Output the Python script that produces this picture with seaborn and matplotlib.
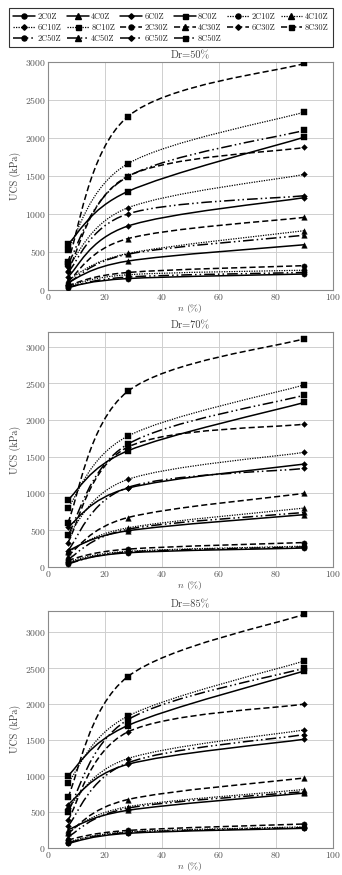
import numpy as np
import pandas as pd
import matplotlib
matplotlib.use("Agg")
import matplotlib.pyplot as plt
from matplotlib.path import Path
from matplotlib.patches import PathPatch
from matplotlib.lines import Line2D
import seaborn as sns

# porosity n (%) at which UCS was measured
n_vals = [7, 28, 90]

# series names in legend (row by row) order
names = ["2C0Z", "4C0Z", "6C0Z", "8C0Z", "2C10Z", "4C10Z",
         "6C10Z", "8C10Z", "2C30Z", "4C30Z", "6C30Z", "8C30Z",
         "2C50Z", "4C50Z", "6C50Z", "8C50Z"]

# UCS (kPa) values, Dr = 50 %
dr50 = {
    "2C0Z": [40, 150, 210], "2C10Z": [50, 200, 260],
    "2C30Z": [60, 230, 320], "2C50Z": [30, 170, 230],
    "4C0Z": [100, 380, 595], "4C10Z": [130, 480, 780],
    "4C30Z": [110, 675, 955], "4C50Z": [90, 470, 720],
    "6C0Z": [170, 840, 1215], "6C10Z": [300, 1080, 1520],
    "6C30Z": [250, 1495, 1875], "6C50Z": [230, 1000, 1240],
    "8C0Z": [600, 1295, 2010], "8C10Z": [530, 1660, 2340],
    "8C30Z": [370, 2280, 2980], "8C50Z": [340, 1490, 2100],
}
# Dr = 70 %
dr70 = {
    "2C0Z": [50, 190, 255], "2C10Z": [70, 210, 280],
    "2C30Z": [90, 240, 330], "2C50Z": [40, 200, 270],
    "4C0Z": [220, 490, 710], "4C10Z": [200, 530, 800],
    "4C30Z": [150, 670, 1000], "4C50Z": [100, 510, 740],
    "6C0Z": [540, 1070, 1400], "6C10Z": [430, 1190, 1560],
    "6C30Z": [330, 1630, 1945], "6C50Z": [220, 1080, 1340],
    "8C0Z": [910, 1580, 2240], "8C10Z": [800, 1780, 2480],
    "8C30Z": [600, 2390, 3110], "8C50Z": [430, 1670, 2340],
}
# Dr = 85 %
dr85 = {
    "2C0Z": [60, 200, 270], "2C10Z": [80, 220, 290],
    "2C30Z": [110, 240, 330], "2C50Z": [70, 210, 280],
    "4C0Z": [250, 520, 760], "4C10Z": [220, 570, 810],
    "4C30Z": [200, 670, 970], "4C50Z": [150, 550, 780],
    "6C0Z": [600, 1160, 1510], "6C10Z": [550, 1240, 1640],
    "6C30Z": [380, 1610, 2000], "6C50Z": [300, 1180, 1575],
    "8C0Z": [1000, 1700, 2460], "8C10Z": [900, 1830, 2600],
    "8C30Z": [700, 2380, 3250], "8C50Z": [500, 1780, 2500],
}

panels = [("Dr=50%", dr50, 3000), ("Dr=70%", dr70, 3200), ("Dr=85%", dr85, 3300)]

markers = {"2C": "o", "4C": "^", "6C": "D", "8C": "s"}
msizes = {"2C": 3.6, "4C": 3.8, "6C": 2.8, "8C": 3.6}
lstyles = {"0Z": "-", "10Z": (0, (1, 1)), "30Z": (0, (4, 2)),
           "50Z": (0, (7, 2, 1, 2, 1, 2))}
lwidths = {"0Z": 1.1, "10Z": 0.9, "30Z": 1.1, "50Z": 1.1}


def split(name):
    return name[:2], name[2:]


def smooth_path(xs, ys):
    # Excel-like smoothed line (Catmull-Rom as cubic Bezier)
    pts = np.column_stack([xs, ys]).astype(float)
    ext = np.vstack([pts[0], pts, pts[-1]])
    verts = [pts[0]]
    codes = [Path.MOVETO]
    for i in range(len(pts) - 1):
        c1 = pts[i] + (ext[i + 2] - ext[i]) / 6
        c2 = pts[i + 1] - (ext[i + 3] - ext[i + 1]) / 6
        verts += [c1, c2, pts[i + 1]]
        codes += [Path.CURVE4] * 3
    return Path(verts, codes)


sns.set_style("whitegrid")
plt.rcParams["font.family"] = "serif"
plt.rcParams["font.serif"] = ["cmr10", "DejaVu Serif"]
plt.rcParams["mathtext.fontset"] = "cm"
plt.rcParams["axes.formatter.use_mathtext"] = True

fig = plt.figure(figsize=(3.42, 8.75), dpi=100)
positions = [[0.140, 0.6686, 0.833, 0.2606],
             [0.140, 0.3523, 0.833, 0.2682],
             [0.140, 0.0312, 0.833, 0.2709]]

for (title, data, ytop), pos in zip(panels, positions):
    ax = fig.add_axes(pos)
    rows = []
    for name in names:
        for x, y in zip(n_vals, data[name]):
            rows.append({"n": x, "ucs": y, "series": name})
    df = pd.DataFrame(rows)
    for name in names:
        c, z = split(name)
        sub = df[df["series"] == name]
        patch = PathPatch(smooth_path(sub["n"], sub["ucs"]), fill=False,
                          edgecolor="black", lw=lwidths[z], linestyle=lstyles[z],
                          zorder=3)
        ax.add_patch(patch)
        sns.scatterplot(data=sub, x="n", y="ucs", marker=markers[c],
                        s=msizes[c] ** 2 * 1.1, color="black", edgecolor="black",
                        linewidth=0.3, ax=ax, zorder=4, legend=False)
    ax.set_xlim(0, 100)
    ax.set_ylim(0, ytop)
    ax.set_xticks(range(0, 101, 20))
    ax.set_yticks(range(0, ytop + 1, 500))
    ax.grid(True, color="#cfcfcf", lw=0.7)
    for sp in ax.spines.values():
        sp.set_color("#8a8a8a")
        sp.set_linewidth(0.8)
    ax.tick_params(labelsize=7, colors="#555555", length=0, pad=1.5)
    ax.set_title(title, fontsize=7.5, pad=2.5, color="#444444")
    ax.set_xlabel("$n$ (%)", fontsize=7, labelpad=0, color="#444444")
    ax.set_ylabel("UCS (kPa)", fontsize=7.2, labelpad=3, color="#444444")

handles = []
for name in names:
    c, z = split(name)
    handles.append(Line2D([0], [0], color="black", lw=lwidths[z], ls=lstyles[z],
                          marker=markers[c], ms=msizes[c]))
order = [i for col in range(6) for i in range(col, len(names), 6)]
leg = fig.legend([handles[i] for i in order], [names[i] for i in order],
                 loc="upper left", bbox_to_anchor=(0.015, 0.9954, 0.97, 0),
                 mode="expand", ncol=6, fontsize=6, frameon=True,
                 fancybox=False, edgecolor="black", handlelength=2.6,
                 handletextpad=0.3, columnspacing=0.3, labelspacing=0.3,
                 borderpad=0.5)
leg.get_frame().set_linewidth(0.8)

fig.savefig("out.png", dpi=100)
